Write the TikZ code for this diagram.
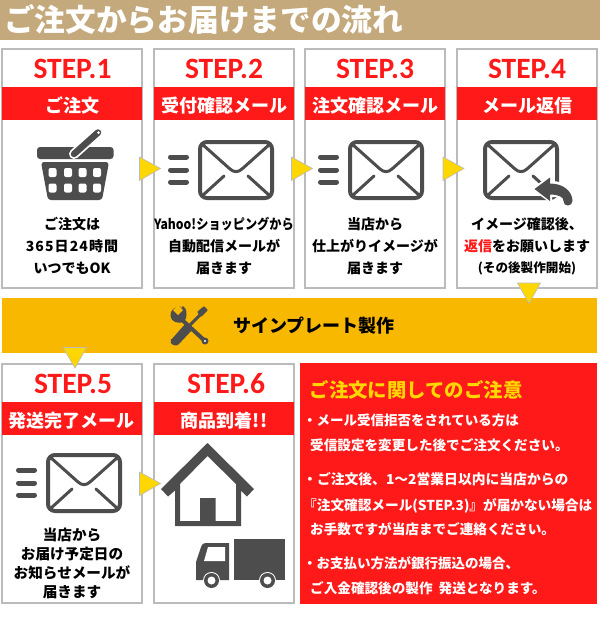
\documentclass[tikz,border=0pt]{standalone}
\usepackage{graphicx}
\usepackage{fontspec}
\newfontfamily\jp{Noto Sans CJK JP}
\newfontfamily\stepfont{Carlito}
\definecolor{brownband}{HTML}{C4A97C}
\definecolor{goldband}{HTML}{F9B800}
\definecolor{redband}{HTML}{FF1919}
\definecolor{edge}{HTML}{BBBBBB}
\definecolor{dark}{HTML}{4D4D4D}
\definecolor{tri}{HTML}{FFD700}
\newcommand\fs[1]{\fontsize{#1}{#1}\selectfont}
\tikzset{
  x=1pt,y=-1pt,
  txt/.style={inner sep=0pt,anchor=base,font=\jp\bfseries\fs{14}},
  ltxt/.style={txt,anchor=base west,font=\jp\bfseries\fs{#1},text=white},
  band/.style={txt,font=\jp\bfseries\fs{18},text=white},
  steplabel/.style={inner sep=0pt,anchor=base,text=redband,font=\stepfont\bfseries\fs{29.5}},
  stepbox/.style={draw=edge,line width=2pt,fill=white,minimum width=#1,minimum height=238.4pt,inner sep=0pt},
  tritip/.style={fill=tri,draw=edge,line width=0.6pt,line join=round},
}
\newcommand\envshape[2]{%
  \begin{scope}[shift={(#1,#2)}]
    \draw[dark,line width=4pt,rounded corners=7pt] (2,2) rectangle (74,58);
    \draw[dark,line width=3pt,line join=round,line cap=round]
      (4,4) -- (32,29) .. controls (36,32.5) and (40,32.5) .. (44,29) -- (72,4);
    \draw[dark,line width=3pt,line cap=round] (4,56) -- (26,36) (72,56) -- (50,36);
  \end{scope}}
\newcommand\envbars[2]{%
  \begin{scope}[shift={(#1,#2)}]
    \draw[dark,line width=5pt,line cap=round] (-27.5,17) -- (-11.5,17) (-27.5,30) -- (-11.5,30) (-27.5,42) -- (-11.5,42);
  \end{scope}}
\begin{document}
\begin{tikzpicture}
\useasboundingbox (0,0) rectangle (600,629);
\fill[white] (0,0) rectangle (600,629);
% title
\fill[brownband] (0,0) rectangle (600,40);
\node[txt,anchor=base west,font=\jp\bfseries\fs{30.7},text=white] (title) at (4,31) {ご注文からお届けまでの流れ};
% gold band
\fill[goldband] (2,298) rectangle (597,353);
\node[txt,anchor=base west,font=\jp\bfseries\fs{18},text=black] (making) at (233,332.5) {サインプレート製作};
% boxes
\node[stepbox=140pt] (box1) at (72,168.5) {};
\node[stepbox=140pt] (box2) at (224,168.5) {};
\node[stepbox=140pt] (box3) at (375.3,168.5) {};
\node[stepbox=140pt] (box4) at (527,168.5) {};
\node[stepbox=140pt] (box5) at (72,483.5) {};
\node[stepbox=140pt] (box6) at (224,483.5) {};
% red bands
\fill[redband] (2,87) rectangle (142,120);
\fill[redband] (154,87) rectangle (294,120);
\fill[redband] (305,87) rectangle (445,120);
\fill[redband] (457,87) rectangle (597,120);
\fill[redband] (2,402) rectangle (142,435);
\fill[redband] (154,402) rectangle (294,435);
\fill[redband] (300,363) rectangle (597,604);
% step labels
\node[steplabel] (s1) at (72.5,78.5) {STEP.1};
\node[steplabel] (s2) at (224,78.5) {STEP.2};
\node[steplabel] (s3) at (375,78.5) {STEP.3};
\node[steplabel] (s4) at (527,78.5) {STEP.4};
\node[steplabel] (s5) at (73,393.5) {STEP.5};
\node[steplabel] (s6) at (226,393.5) {STEP.6};
% band titles
\node[band] (b1) at (72,112) {ご注文};
\node[band] (b2) at (224,112) {受付確認メール};
\node[band] (b3) at (375,112) {注文確認メール};
\node[band] (b4) at (527,112) {メール返信};
\node[band] (b5) at (72,427) {発送完了メール};
\node[band] (b6) at (224,427) {商品到着!!};
% step texts
\node[txt] (t11) at (72,229) {ご注文は};
\node[txt] (t12) at (72,251) {\addfontfeature{LetterSpace=8}365日24時間};
\node[txt] (t13) at (72,273) {いつでもOK};
\node[txt] (t21) at (224,229) {\scalebox{.87}[1]{Yahoo!ショッピングから}};
\node[txt] (t22) at (224,251) {自動配信メールが};
\node[txt] (t23) at (224,273) {届きます};
\node[txt] (t31) at (375,229) {当店から};
\node[txt] (t32) at (375,251) {仕上がりイメージが};
\node[txt] (t33) at (375,273) {届きます};
\node[txt] (t41) at (527,229) {イメージ確認後、};
\node[txt] (t42) at (527,251) {\textcolor{redband}{返信}をお願いします};
\node[txt,font=\jp\bfseries\fs{12.6}] (t43) at (527,272) {(その後製作開始)};
\node[txt,font=\jp\bfseries\fs{14.6}] (t51) at (72,540.5) {当店から};
\node[txt,font=\jp\bfseries\fs{14.6}] (t52) at (72,559.5) {お届け予定日の};
\node[txt,font=\jp\bfseries\fs{14.6}] (t53) at (72,578.5) {お知らせメールが};
\node[txt,font=\jp\bfseries\fs{14.6}] (t54) at (72,597.5) {届きます};
% notice panel
\node[txt,anchor=base west,font=\jp\bfseries\fs{19.4},text=tri] (n0) at (309.5,397) {ご注文に関してのご注意};
\node[ltxt=13.5] (n1) at (303,425) {・メール受信拒否をされている方は};
\node[ltxt=13.6] (n2) at (310,450) {受信設定を変更した後でご注文ください。};
\node[ltxt=13.8] (n3) at (303,484) {・ご注文後、1〜2営業日以内に当店からの};
\node[ltxt=13.65] (n4) at (303,510) {『注文確認メール(STEP.3)』が届かない場合は};
\node[ltxt=13.6] (n5) at (310,534) {お手数ですが当店までご連絡ください。};
\node[ltxt=13.5] (n6) at (303,568) {・お支払い方法が銀行振込の場合、};
\node[ltxt=13.6] (n7) at (310,593) {ご入金確認後の製作\hspace{3pt} 発送となります。};
% basket
\fill[dark,rounded corners=3pt] (37,147) rectangle (113.5,159);
\fill[dark,rounded corners=3pt] (41,162) -- (109,162) -- (102,200) -- (48,200) -- cycle;
\foreach \cx in {52.5,68,82.5,97}{
  \foreach \cy in {172.5,188}{
    \fill[white,rounded corners=2pt] (\cx-4,\cy-4.5) rectangle (\cx+4,\cy+4.5);
  }}
\draw[white,line width=10pt,line cap=round] (74,154) -- (98,132.5);
\draw[dark,line width=6.5pt,line cap=round] (74,154) -- (98,132.5);
\fill[white] (98.5,132.5) circle (1.5);
% envelopes
\envbars{198}{140}\envshape{198}{140}
\envbars{348}{140}\envshape{348}{140}
\envshape{483}{140}
\envbars{46}{453}\envshape{46}{453}
% reply arrow
\fill[white] (531,189) -- (552,174) -- (552,181) .. controls (565,181) and (574,190) .. (574,208) -- (562,208) -- (562,197) -- (552,197) -- (552,204) -- cycle;
\fill[dark] (534.5,189) -- (550,177.5) -- (550,183.5) .. controls (564,183.5) and (572.5,192) .. (572.5,201) .. controls (572.5,207) and (563,207) .. (563.5,201) .. controls (564,197) and (558,194.5) .. (550,194.5) -- (550,201) -- cycle;
% tools
\fill[dark,rounded corners=1pt] (171,340) -- (186,323) -- (193,329) -- (178,345) .. controls (174,346) and (170,344) .. (171,340) -- cycle;
\draw[dark,line width=3pt] (189,326) -- (201,314);
\fill[dark,rounded corners=1pt] (197,312) -- (204,306) -- (208,310) -- (201,317) -- cycle;
\draw[dark,line width=4pt,line cap=round] (180,318) -- (205,341);
\fill[dark] (181,306.5) .. controls (174,306) and (170,311) .. (170.5,316) .. controls (171,322) and (178,324) .. (184,322) -- (186,318) .. controls (187,313) and (187,309) .. (183,306) -- (178,311) -- (175,313) -- cycle;
\fill[goldband] (178,305) -- (183,310) -- (178,315) -- (173,310) -- cycle;
\fill[dark] (205,341) circle (3.5);
\fill[white] (205,341) circle (1.2);
% house
\fill[dark,even odd rule] (207.5,443) -- (254,489) -- (247,496.5) -- (241,490.5) -- (241,526) -- (175,526) -- (175,490.5) -- (168,496.5) -- (161,489) -- cycle
  (207.5,456) -- (236,484) -- (236,521) -- (215.5,521) -- (215.5,498) -- (200,498) -- (200,521) -- (180,521) -- (180,484) -- cycle;
% truck
\fill[dark] (233.5,538.5) rectangle (285,580);
\fill[dark] (229,543) -- (206,543) .. controls (203,543) and (202,544) .. (201,547) -- (196,562) -- (196,580) -- (229,580) -- cycle;
\fill[white] (225,547) -- (208,547) -- (204,561) -- (225,561) -- cycle;
\fill[white] (211.5,580.5) circle (8.5);
\fill[dark] (211.5,580.5) circle (7.5);
\fill[white] (211.5,580.5) circle (4);
\fill[white] (267.5,580.5) circle (8.5);
\fill[dark] (267.5,580.5) circle (7.5);
\fill[white] (267.5,580.5) circle (4);
% triangles
\draw[tritip] (139.5,157) -- (160.5,168.5) -- (139.5,180.5) -- cycle;
\draw[tritip] (291.5,157) -- (312.5,168.5) -- (291.5,180.5) -- cycle;
\draw[tritip] (443,157) -- (464,168.5) -- (443,180.5) -- cycle;
\draw[tritip] (139.5,472) -- (160.5,483.5) -- (139.5,495.5) -- cycle;
\draw[tritip] (517.5,283) -- (540.5,283) -- (529,303.5) -- cycle;
\draw[tritip] (63,347.5) -- (86.5,347.5) -- (75,368) -- cycle;
\end{tikzpicture}
\end{document}
